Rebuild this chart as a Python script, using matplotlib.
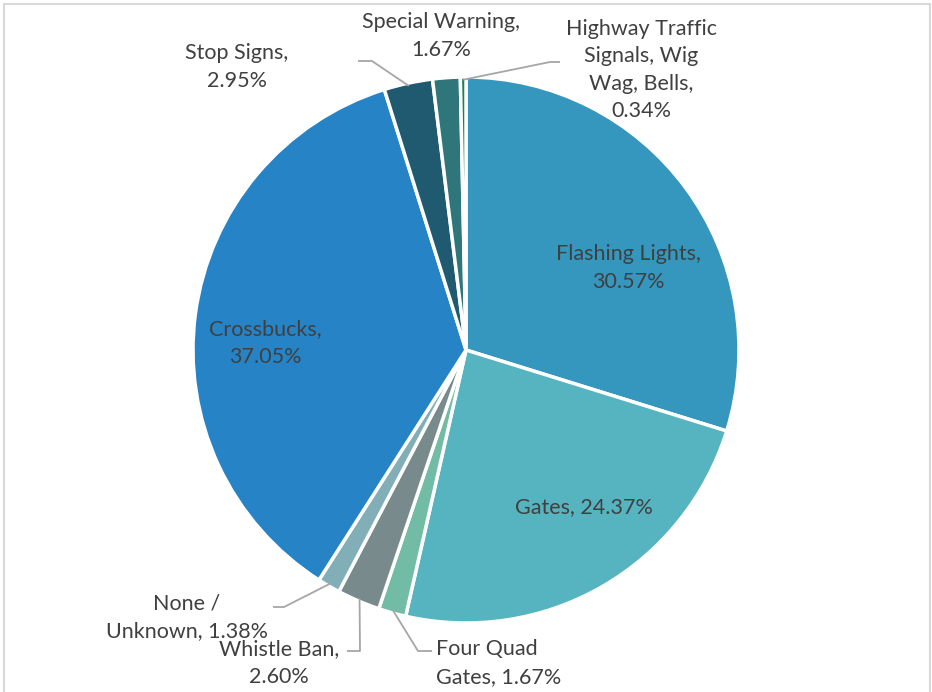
import matplotlib
matplotlib.use("Agg")
import matplotlib.pyplot as plt
import numpy as np
from matplotlib.patches import Rectangle

categories = ["Flashing Lights", "Gates", "Four Quad Gates", "Whistle Ban", "None / Unknown",
              "Crossbucks", "Stop Signs", "Special Warning", "Highway Traffic Signals, Wig Wag, Bells"]
values = [30.57, 24.37, 1.67, 2.60, 1.38, 37.05, 2.95, 1.67, 0.34]
colors = ["#3596BE", "#56B4C0", "#72BCA6", "#788A8C", "#82AEB8",
          "#2683C6", "#1F5A70", "#2E7679", "#1D7F5A"]
labels = ["Flashing Lights,\n30.57%", "Gates, 24.37%", "Four Quad\nGates, 1.67%",
          "Whistle Ban,\n2.60%", "None /\nUnknown, 1.38%", "Crossbucks,\n37.05%",
          "Stop Signs,\n2.95%", "Special Warning,\n1.67%",
          "Highway Traffic\nSignals, Wig\nWag, Bells,\n0.34%"]

W, H = 932, 692
fig = plt.figure(figsize=(W/100, H/100), dpi=100)
ax = fig.add_axes([0, 0, 1, 1])

cx, cy, R = 466, H - 350, 273
wedges, _ = ax.pie(values, colors=colors, startangle=90, counterclock=False,
                   center=(cx, cy), radius=R, frame=True,
                   wedgeprops=dict(edgecolor="white", linewidth=2.5))
ax.set_xlim(0, W)
ax.set_ylim(0, H)
ax.axis("off")

# frame
ax.add_patch(Rectangle((3.5, -10), 926, H - 3.5 + 10, fill=False,
                       edgecolor="#D9D9D9", linewidth=1.5))

tc = "#404040"
lc = "#A6A6A6"
fs = 15.5
ls = 1.45
fam = ["Lato", "DejaVu Sans"]

def edge_pt(i, frac=1.0):
    w = wedges[i]
    a = np.deg2rad((w.theta1 + w.theta2) / 2)
    return cx + R * frac * np.cos(a), cy + R * frac * np.sin(a)

def yy(y):
    return H - y

def txt(x, y, s, ha="center"):
    ax.text(x, yy(y), s, ha=ha, va="center", color=tc, fontsize=fs, family=fam, linespacing=ls)

# inside labels
txt(628, 268, labels[0])
txt(584, 507, labels[1])
txt(265, 343, labels[5])

# outside labels with leaders
def leader(i, pts):
    x0, y0 = edge_pt(i, 0.99)
    xs = [x0] + [p[0] for p in pts]
    ys = [y0] + [yy(p[1]) for p in pts]
    ax.plot(xs, ys, color=lc, linewidth=1.3, solid_capstyle="butt")

leader(2, [(418, 651), (432, 651)])
txt(436, 663, labels[2], ha="left")
leader(3, [(360, 651), (347, 651)])
txt(279, 663, labels[3])
leader(4, [(284, 607), (273, 607)])
txt(187, 617, labels[4])
leader(6, [(372, 61), (358, 61)])
txt(237, 67, labels[6])
txt(441, 36, labels[7])
leader(8, [(550, 62), (560, 62)])
txt(641, 70, labels[8])

fig.savefig("out.png", dpi=100, facecolor="white")
